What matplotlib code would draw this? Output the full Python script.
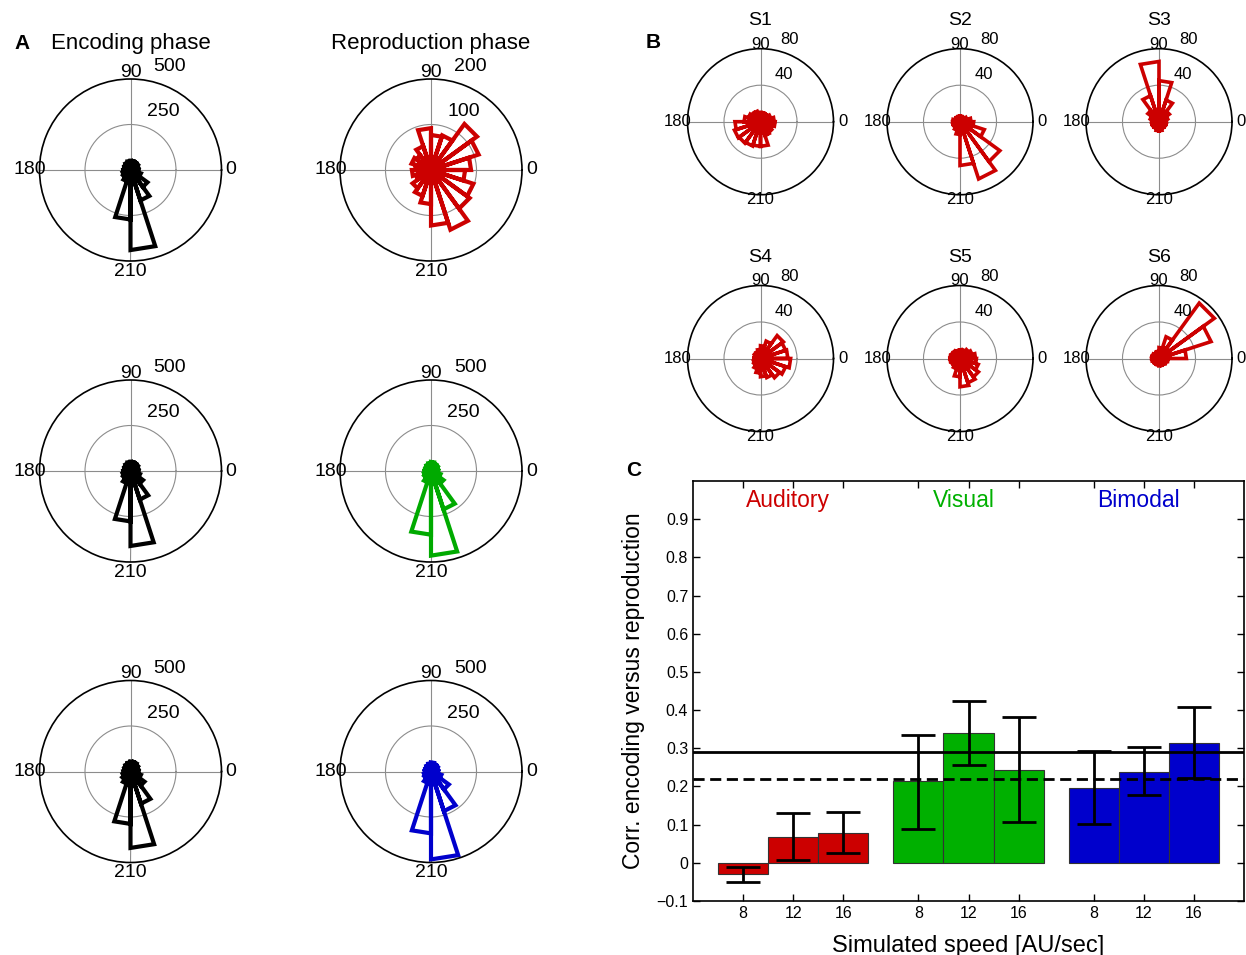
import numpy as np
import matplotlib
matplotlib.use('Agg')
import matplotlib.pyplot as plt

plt.rcParams['font.family'] = ['Liberation Sans', 'DejaVu Sans']

# rose histograms: 20 bins of 18 degrees, counts per bin starting at 0 deg
enc_1 = [40, 45, 50, 50, 50, 50, 45, 40, 35, 35, 40, 45, 50, 65, 272, 440, 176, 115, 60, 45]
enc_2 = [40, 45, 50, 50, 50, 50, 45, 40, 35, 35, 40, 45, 50, 70, 277, 412, 165, 85, 55, 45]
enc_3 = [40, 45, 50, 55, 55, 50, 45, 40, 35, 35, 40, 45, 55, 70, 288, 420, 186, 95, 60, 45]
rep_aud = [88, 110, 125, 80, 77, 92, 55, 40, 45, 35, 42, 35, 50, 60, 75, 122, 138, 105, 98, 75]
rep_vis = [35, 40, 45, 45, 50, 45, 40, 35, 35, 30, 35, 40, 45, 65, 350, 465, 222, 85, 55, 40]
rep_bim = [35, 40, 45, 45, 50, 45, 40, 35, 35, 30, 35, 40, 45, 65, 340, 483, 229, 121, 60, 40]

subj_names = ['S1', 'S2', 'S3', 'S4', 'S5', 'S6']
subj_counts = [
    [15, 12, 10, 10, 10, 10, 12, 12, 14, 18, 28, 30, 29, 28, 27, 27, 16, 15, 14, 16],
    [12, 8, 6, 6, 6, 6, 6, 6, 6, 8, 8, 8, 8, 10, 14, 48, 66, 54, 28, 15],
    [8, 10, 14, 25, 45, 66, 30, 15, 10, 8, 8, 8, 8, 8, 10, 10, 8, 8, 8, 8],
    [30, 29, 31, 20, 14, 10, 8, 8, 7, 7, 7, 8, 9, 12, 16, 20, 22, 26, 29, 33],
    [17, 14, 12, 10, 9, 9, 9, 10, 10, 11, 11, 10, 10, 12, 20, 31, 28, 25, 21, 18],
    [30, 60, 75, 25, 12, 8, 7, 7, 8, 8, 8, 7, 7, 7, 7, 8, 8, 8, 9, 10],
]

# correlation bars
groups = ['Auditory', 'Visual', 'Bimodal']
speeds = ['8', '12', '16']
corr_aud = [-0.03, 0.068, 0.078]
corr_vis = [0.213, 0.339, 0.243]
corr_bim = [0.197, 0.238, 0.313]
low_aud = [-0.05, 0.008, 0.027]
high_aud = [-0.012, 0.13, 0.133]
low_vis = [0.088, 0.255, 0.107]
high_vis = [0.336, 0.423, 0.382]
low_bim = [0.101, 0.178, 0.221]
high_bim = [0.292, 0.304, 0.408]
line_solid = 0.29
line_dashed = 0.22

RED = '#cc0000'
GREEN = '#00aa00'
BLUE = '#0000cc'

W, H = 1246, 955
fig = plt.figure(figsize=(W / 100, H / 100), dpi=100)

edges = np.deg2rad(np.arange(0, 361, 18))


def rose(ax, counts, color, lw):
    th, rr = [], []
    for k, c in enumerate(counts):
        th += [edges[k], edges[k], edges[k + 1], edges[k + 1]]
        rr += [0, c, c, 0]
    ax.plot(th, rr, color=color, lw=lw, solid_joinstyle='miter')


def polar_axes(cx, cy, rad, rmax, rin, fs, pos_lab):
    ax = fig.add_axes([(cx - rad) / W, (H - cy - rad) / H, 2 * rad / W, 2 * rad / H],
                      projection='polar')
    ax.set_ylim(0, rmax)
    ax.set_yticks([rin])
    ax.set_yticklabels([])
    ax.set_xticks(np.deg2rad([0, 90, 180, 270]))
    ax.set_xticklabels([])
    ax.grid(True, color='0.55', lw=0.8)
    ax.spines['polar'].set_linewidth(1.2)
    ax.tick_params(length=0)
    (x90, y90), (x0, x180, y210), (xo, yo), (xi, yi) = pos_lab
    kw = dict(transform=ax.transAxes, ha='center', va='center', fontsize=fs)
    ax.text(0.5, y90, '90', **kw)
    ax.text(x0, 0.5, '0', **kw)
    ax.text(x180, 0.5, '180', **kw)
    ax.text(0.5, y210, '210', **kw)
    ax.text(xo, yo, str(rmax), **kw)
    ax.text(xi, yi, str(rin), **kw)
    return ax


# panel A
lab_a = ((0.5, 1.038), (1.052, -0.052, -0.055), (0.717, 1.066), (0.679, 0.819))
col_x = [130.5, 431]
row_y = [170, 471, 771.5]
left_data = [enc_1, enc_2, enc_3]
right_data = [rep_aud, rep_vis, rep_bim]
right_cols = [RED, GREEN, BLUE]
for i in range(3):
    ax = polar_axes(col_x[0], row_y[i], 91, 500, 250, 14, lab_a)
    rose(ax, left_data[i], 'black', 3.0)
    if i == 0:
        ax.text(0.5, 1.195, 'Encoding phase', fontsize=16, ha='center', va='center',
                transform=ax.transAxes)
    rmax = 200 if i == 0 else 500
    ax = polar_axes(col_x[1], row_y[i], 91, rmax, rmax // 2, 14, lab_a)
    rose(ax, right_data[i], right_cols[i], 3.0)
    if i == 0:
        ax.text(0.5, 1.195, 'Reproduction phase', fontsize=16, ha='center', va='center',
                transform=ax.transAxes)

# panel B
lab_b = ((0.5, 1.032), (1.065, -0.065, -0.036), (0.702, 1.06), (0.661, 0.82))
bx = [760.5, 960, 1159]
by = [121.7, 358.5]
for j, (name, counts) in enumerate(zip(subj_names, subj_counts)):
    ax = polar_axes(bx[j % 3], by[j // 3], 73, 80, 40, 12, lab_b)
    rose(ax, counts, RED, 2.6)
    ax.text(0.5, 1.195, name, fontsize=14, ha='center', va='center', transform=ax.transAxes)

# panel C
axc = fig.add_axes([693 / W, (H - 901) / H, (1244 - 693) / W, (901 - 481) / H])
pos = [[1, 2, 3], [4.5, 5.5, 6.5], [8, 9, 10]]
vals = [corr_aud, corr_vis, corr_bim]
lows = [low_aud, low_vis, low_bim]
highs = [high_aud, high_vis, high_bim]
cols = [RED, '#00b000', BLUE]
for p, v, lo, hi, c, g in zip(pos, vals, lows, highs, cols, groups):
    axc.bar(p, v, width=1.0, color=c, edgecolor='#333333', lw=0.8, zorder=2)
    yerr = [np.array(v) - np.array(lo), np.array(hi) - np.array(v)]
    axc.errorbar(p, v, yerr=yerr, fmt='none', ecolor='black', elinewidth=2,
                 capsize=12, capthick=2, zorder=4)
    axc.text(np.mean(p) - 0.1, 0.95, g, color=c, fontsize=16.5, ha='center', va='center')
axc.axhline(line_solid, color='black', lw=2, zorder=3)
axc.axhline(line_dashed, color='black', lw=2, ls=(0, (4, 2)), zorder=3)
axc.set_xlim(0, 11)
axc.set_ylim(-0.1, 1.0)
axc.set_xticks([x for p in pos for x in p])
axc.set_xticklabels(speeds * 3, fontsize=11.5)
yt = np.round(np.arange(-0.1, 0.95, 0.1), 1)
axc.set_yticks(yt)
axc.set_yticklabels(['\u22120.1', '0'] + ['%.1f' % t for t in yt[2:]], fontsize=11.5)
axc.tick_params(direction='in', top=True, right=True, length=5, width=1)
axc.set_ylabel('Corr. encoding versus reproduction', fontsize=16.5, labelpad=8)
axc.set_xlabel('Simulated speed [AU/sec]', fontsize=17, labelpad=10)
for s in axc.spines.values():
    s.set_linewidth(1.2)

fig.text(22 / W, 1 - 43 / H, 'A', fontsize=15, fontweight='bold', ha='center', va='center')
fig.text(653 / W, 1 - 42 / H, 'B', fontsize=15, fontweight='bold', ha='center', va='center')
fig.text(634 / W, 1 - 470 / H, 'C', fontsize=15, fontweight='bold', ha='center', va='center')

fig.savefig('out.png', dpi=100)
